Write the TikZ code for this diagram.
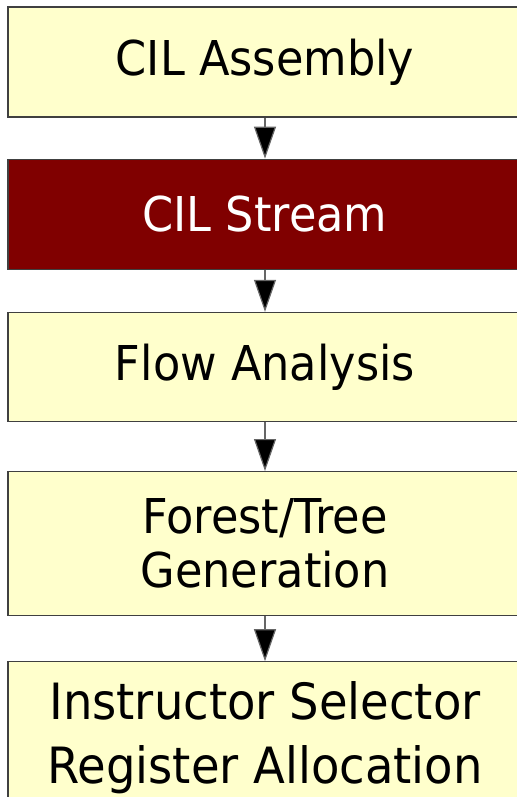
\documentclass[tikz,border=0pt]{standalone}
\usepackage{fontspec}
\setmainfont{DejaVu Sans}[FakeStretch=0.93]
\usetikzlibrary{positioning,arrows.meta}
\definecolor{paleyellow}{RGB}{255,255,204}
\definecolor{darkred}{RGB}{128,0,0}

\begin{document}
\begin{tikzpicture}[x=1bp,y=-1bp,node distance=41bp]

\tikzset{stagebox/.style={draw=black!75,line width=1.2bp,fill=paleyellow,minimum width=514bp,inner sep=0pt,align=center,font=\fontsize{48bp}{54bp}\selectfont},
hotbox/.style={stagebox,fill=darkred,text=white},
flow/.style={draw=black!60,line width=1.2bp,-{Triangle[width=22bp,length=32bp,fill=black]}}}

% Page frame
\useasboundingbox (0,0) rectangle (517,797);
\clip (0,0) rectangle (517,797);

% Stages
\node [stagebox,minimum height=110bp] (asm) at (265,62) {CIL Assembly};
\node [hotbox,minimum height=110bp,below=41bp of asm] (stream) {CIL Stream};
\node [stagebox,minimum height=109bp,below=42bp of stream] (flowan) {Flow Analysis};
\node [stagebox,minimum height=144bp,below=49bp of flowan] (forest) {Forest/Tree\\Generation};
\node [stagebox,minimum height=152bp,below=45bp of forest,font=\fontsize{50bp}{64bp}\selectfont] (isel) {Instructor Selector\\Register Allocation};

% Arrows
\draw[flow] (asm) -- (stream); \draw[flow] (stream) -- (flowan); \draw[flow] (flowan) -- (forest); \draw[flow] (forest) -- (isel);

\end{tikzpicture}
\end{document}
